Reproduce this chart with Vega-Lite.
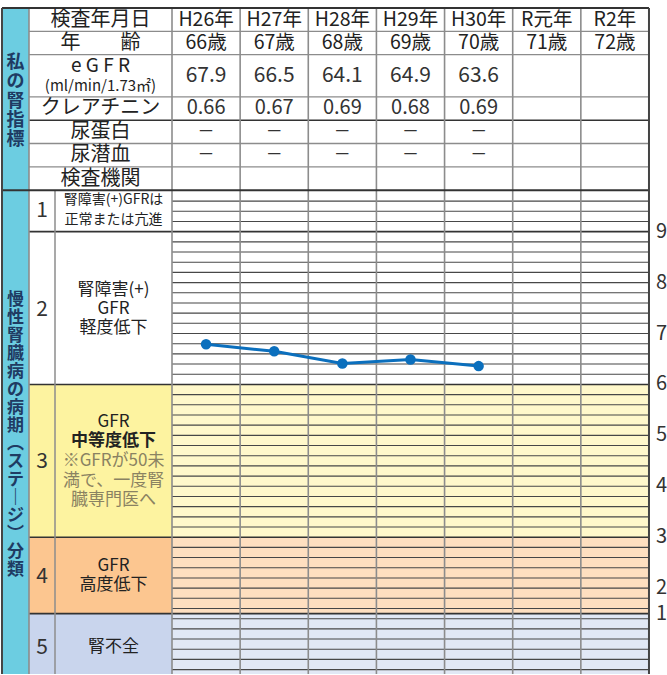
{
 "$schema": "https://vega.github.io/schema/vega-lite/v6.json",
 "width": 667, "height": 675,
 "autosize": {"type": "fit", "contains": "padding"},
 "padding": 0,
 "background": "#ffffff",
 "config": {"view": {"stroke": null}, "axis": {"disable": true}, "legend": {"disable": true}, "font": "Noto Sans CJK JP"},
 "datasets": {
  "years": [
   {"i": 0, "year": "H26年", "age": "66歳", "egfr": 67.9, "cre": 0.66, "prot": "－", "blood": "－"},
   {"i": 1, "year": "H27年", "age": "67歳", "egfr": 66.5, "cre": 0.67, "prot": "－", "blood": "－"},
   {"i": 2, "year": "H28年", "age": "68歳", "egfr": 64.1, "cre": 0.69, "prot": "－", "blood": "－"},
   {"i": 3, "year": "H29年", "age": "69歳", "egfr": 64.9, "cre": 0.68, "prot": "－", "blood": "－"},
   {"i": 4, "year": "H30年", "age": "70歳", "egfr": 63.6, "cre": 0.69, "prot": "－", "blood": "－"},
   {"i": 5, "year": "R元年", "age": "71歳", "egfr": null, "cre": null, "prot": "", "blood": ""},
   {"i": 6, "year": "R2年", "age": "72歳", "egfr": null, "cre": null, "prot": "", "blood": ""}
  ],
  "stages": [
   {"stage": "1", "lo": 90, "hi": 98},
   {"stage": "2", "lo": 60, "hi": 90},
   {"stage": "3", "lo": 30, "hi": 60},
   {"stage": "4", "lo": 15, "hi": 30},
   {"stage": "5", "lo": 0, "hi": 15}
  ],
  "gfrlines": [
   {"v": 4}, {"v": 6}, {"v": 8}, {"v": 10}, {"v": 12}, {"v": 14}, {"v": 16}, {"v": 18}, {"v": 20},
   {"v": 22}, {"v": 24}, {"v": 26}, {"v": 28}, {"v": 32}, {"v": 34}, {"v": 36}, {"v": 38}, {"v": 40},
   {"v": 42}, {"v": 44}, {"v": 46}, {"v": 48}, {"v": 50}, {"v": 52}, {"v": 54}, {"v": 56}, {"v": 58},
   {"v": 62}, {"v": 64}, {"v": 66}, {"v": 68}, {"v": 70}, {"v": 72}, {"v": 74}, {"v": 76}, {"v": 78},
   {"v": 80}, {"v": 82}, {"v": 84}, {"v": 86}, {"v": 88}, {"v": 92}, {"v": 94}, {"v": 96}
  ],
  "cols": [{"b": -2.5986}, {"b": -0.5}, {"b": 0.5}, {"b": 1.5}, {"b": 2.5}, {"b": 3.5}, {"b": 4.5}, {"b": 5.5}],
  "ticks": [{"v": 90}, {"v": 80}, {"v": 70}, {"v": 60}, {"v": 50}, {"v": 40}, {"v": 30}, {"v": 20}, {"v": 15}]
 },
 "data": {"values": [{}]},
 "resolve": {"scale": {"y": "independent", "color": "independent"}},
 "layer": [
  {"data": {"name": "stages"}, "mark": {"type": "rect", "clip": true},
   "encoding": {
    "x": {"datum": -2.5986, "type": "quantitative", "scale": {"domain": [-3.0242, 6.7644], "nice": false, "zero": false}},
    "x2": {"datum": -0.5},
    "y": {"field": "hi", "type": "quantitative", "scale": {"domain": [3.137, 135.49], "nice": false, "zero": false}},
    "y2": {"field": "lo"},
    "color": {"field": "stage", "type": "nominal", "scale": {"domain": ["1", "2", "3", "4", "5"], "range": ["#ffffff", "#ffffff", "#fdf3a0", "#fcc690", "#c9d5ed"]}, "legend": null}}},
  {"data": {"name": "stages"}, "mark": {"type": "rect", "clip": true},
   "encoding": {
    "x": {"datum": -0.5, "type": "quantitative", "scale": {"domain": [-3.0242, 6.7644], "nice": false, "zero": false}},
    "x2": {"datum": 6.5},
    "y": {"field": "hi", "type": "quantitative", "scale": {"domain": [3.137, 135.49], "nice": false, "zero": false}},
    "y2": {"field": "lo"},
    "color": {"field": "stage", "type": "nominal", "scale": {"domain": ["1", "2", "3", "4", "5"], "range": ["#ffffff", "#ffffff", "#fff8cb", "#fedfc0", "#e1e8f5"]}, "legend": null}}},
  {"mark": {"type": "rect", "color": "#6ccde1"},
   "encoding": {
    "x": {"datum": -2.995, "type": "quantitative", "scale": {"domain": [-3.0242, 6.7644], "nice": false, "zero": false}},
    "x2": {"datum": -2.5986},
    "y": {"datum": 133.92, "type": "quantitative", "scale": {"domain": [3.137, 135.49], "nice": false, "zero": false}},
    "y2": {"datum": 3.137}}},
  {"data": {"name": "gfrlines"}, "mark": {"type": "rule", "color": "#474747", "strokeWidth": 1.1},
   "encoding": {
    "x": {"datum": -0.5, "type": "quantitative", "scale": {"domain": [-3.0242, 6.7644], "nice": false, "zero": false}},
    "x2": {"datum": 6.5},
    "y": {"field": "v", "type": "quantitative", "scale": {"domain": [3.137, 135.49], "nice": false, "zero": false}}}},
  {"data": {"name": "stages"}, "transform": [{"filter": "datum.stage != '1'"}],
   "mark": {"type": "rule", "color": "#333333", "strokeWidth": 1.6},
   "encoding": {
    "x": {"datum": -2.5986, "type": "quantitative", "scale": {"domain": [-3.0242, 6.7644], "nice": false, "zero": false}},
    "x2": {"datum": 6.5},
    "y": {"field": "hi", "type": "quantitative", "scale": {"domain": [3.137, 135.49], "nice": false, "zero": false}}}},
  {"data": {"values": [{"t": 1}, {"t": 2}, {"t": 3.8}, {"t": 5.8}, {"t": 6.8}]},
   "mark": {"type": "rule", "color": "#8c8c8c", "strokeWidth": 1.3},
   "encoding": {
    "x": {"datum": -2.5986, "type": "quantitative", "scale": {"domain": [-3.0242, 6.7644], "nice": false, "zero": false}},
    "x2": {"datum": 6.5},
    "y": {"field": "t", "type": "quantitative", "scale": {"domain": [-0.342, 28.504], "nice": false, "zero": false, "reverse": true}}}},
  {"data": {"values": [{"t": 4.8}]},
   "mark": {"type": "rule", "color": "#333333", "strokeWidth": 1.5},
   "encoding": {
    "x": {"datum": -2.5986, "type": "quantitative", "scale": {"domain": [-3.0242, 6.7644], "nice": false, "zero": false}},
    "x2": {"datum": 6.5},
    "y": {"field": "t", "type": "quantitative", "scale": {"domain": [-0.342, 28.504], "nice": false, "zero": false, "reverse": true}}}},
  {"data": {"name": "cols"},
   "mark": {"type": "rule", "color": "#8c8c8c", "strokeWidth": 1.6},
   "encoding": {
    "x": {"field": "b", "type": "quantitative", "scale": {"domain": [-3.0242, 6.7644], "nice": false, "zero": false}},
    "y": {"datum": 133.92, "type": "quantitative", "scale": {"domain": [3.137, 135.49], "nice": false, "zero": false}},
    "y2": {"datum": 3.137}}},
  {"mark": {"type": "rule", "color": "#8c8c8c", "strokeWidth": 1.5},
   "encoding": {
    "x": {"datum": -2.217, "type": "quantitative", "scale": {"domain": [-3.0242, 6.7644], "nice": false, "zero": false}},
    "y": {"datum": 98, "type": "quantitative", "scale": {"domain": [3.137, 135.49], "nice": false, "zero": false}},
    "y2": {"datum": 3.137}}},
  {"data": {"values": [{"t": 0}, {"t": 7.8}]},
   "mark": {"type": "rule", "color": "#333333", "strokeWidth": 2},
   "encoding": {
    "x": {"datum": -2.995, "type": "quantitative", "scale": {"domain": [-3.0242, 6.7644], "nice": false, "zero": false}},
    "x2": {"datum": 6.5},
    "y": {"field": "t", "type": "quantitative", "scale": {"domain": [-0.342, 28.504], "nice": false, "zero": false, "reverse": true}}}},
  {"data": {"values": [{"b": -2.995}, {"b": 6.5}]},
   "mark": {"type": "rule", "color": "#444444", "strokeWidth": 2},
   "encoding": {
    "x": {"field": "b", "type": "quantitative", "scale": {"domain": [-3.0242, 6.7644], "nice": false, "zero": false}},
    "y": {"datum": 133.92, "type": "quantitative", "scale": {"domain": [3.137, 135.49], "nice": false, "zero": false}},
    "y2": {"datum": 3.137}}},

  {"mark": {"type": "text", "text": ["私", "の", "腎", "指", "標"], "fontSize": 18, "fontWeight": "bold", "lineHeight": 19.1, "color": "#1f3b63"},
   "encoding": {
    "x": {"datum": -2.797, "type": "quantitative", "scale": {"domain": [-3.0242, 6.7644], "nice": false, "zero": false}},
    "y": {"datum": 2.37, "type": "quantitative", "scale": {"domain": [-0.342, 28.504], "nice": false, "zero": false, "reverse": true}}}},
  {"mark": {"type": "text", "text": ["慢", "性", "腎", "臓", "病", "の", "病", "期", "︵", "ス", "テ", "｜", "ジ", "︶", "分", "類"], "fontSize": 17, "fontWeight": "bold", "lineHeight": 18, "color": "#1f3b63"},
   "encoding": {
    "x": {"datum": -2.797, "type": "quantitative", "scale": {"domain": [-3.0242, 6.7644], "nice": false, "zero": false}},
    "y": {"datum": 76.5, "type": "quantitative", "scale": {"domain": [3.137, 135.49], "nice": false, "zero": false}}}},

  {"mark": {"type": "text", "text": "検査年月日", "fontSize": 20, "color": "#222222"},
   "encoding": {
    "x": {"datum": -1.549, "type": "quantitative", "scale": {"domain": [-3.0242, 6.7644], "nice": false, "zero": false}},
    "y": {"datum": 0.5, "type": "quantitative", "scale": {"domain": [-0.342, 28.504], "nice": false, "zero": false, "reverse": true}}}},
  {"mark": {"type": "text", "text": "年　　齢", "fontSize": 20, "color": "#222222"},
   "encoding": {
    "x": {"datum": -1.549, "type": "quantitative", "scale": {"domain": [-3.0242, 6.7644], "nice": false, "zero": false}},
    "y": {"datum": 1.5, "type": "quantitative", "scale": {"domain": [-0.342, 28.504], "nice": false, "zero": false, "reverse": true}}}},
  {"mark": {"type": "text", "text": "e G F R", "fontSize": 19, "color": "#222222"},
   "encoding": {
    "x": {"datum": -1.549, "type": "quantitative", "scale": {"domain": [-3.0242, 6.7644], "nice": false, "zero": false}},
    "y": {"datum": 2.5, "type": "quantitative", "scale": {"domain": [-0.342, 28.504], "nice": false, "zero": false, "reverse": true}}}},
  {"mark": {"type": "text", "text": "(ml/min/1.73㎡)", "fontSize": 15, "color": "#222222"},
   "encoding": {
    "x": {"datum": -1.549, "type": "quantitative", "scale": {"domain": [-3.0242, 6.7644], "nice": false, "zero": false}},
    "y": {"datum": 3.33, "type": "quantitative", "scale": {"domain": [-0.342, 28.504], "nice": false, "zero": false, "reverse": true}}}},
  {"mark": {"type": "text", "text": "クレアチニン", "fontSize": 20, "color": "#222222"},
   "encoding": {
    "x": {"datum": -1.549, "type": "quantitative", "scale": {"domain": [-3.0242, 6.7644], "nice": false, "zero": false}},
    "y": {"datum": 4.3, "type": "quantitative", "scale": {"domain": [-0.342, 28.504], "nice": false, "zero": false, "reverse": true}}}},
  {"mark": {"type": "text", "text": "尿蛋白", "fontSize": 20, "color": "#222222"},
   "encoding": {
    "x": {"datum": -1.549, "type": "quantitative", "scale": {"domain": [-3.0242, 6.7644], "nice": false, "zero": false}},
    "y": {"datum": 5.3, "type": "quantitative", "scale": {"domain": [-0.342, 28.504], "nice": false, "zero": false, "reverse": true}}}},
  {"mark": {"type": "text", "text": "尿潜血", "fontSize": 20, "color": "#222222"},
   "encoding": {
    "x": {"datum": -1.549, "type": "quantitative", "scale": {"domain": [-3.0242, 6.7644], "nice": false, "zero": false}},
    "y": {"datum": 6.3, "type": "quantitative", "scale": {"domain": [-0.342, 28.504], "nice": false, "zero": false, "reverse": true}}}},
  {"mark": {"type": "text", "text": "検査機関", "fontSize": 20, "color": "#222222"},
   "encoding": {
    "x": {"datum": -1.549, "type": "quantitative", "scale": {"domain": [-3.0242, 6.7644], "nice": false, "zero": false}},
    "y": {"datum": 7.3, "type": "quantitative", "scale": {"domain": [-0.342, 28.504], "nice": false, "zero": false, "reverse": true}}}},

  {"data": {"name": "years"}, "mark": {"type": "text", "fontSize": 19.5, "color": "#222222"},
   "encoding": {
    "x": {"field": "i", "type": "quantitative", "scale": {"domain": [-3.0242, 6.7644], "nice": false, "zero": false}},
    "y": {"datum": 0.5, "type": "quantitative", "scale": {"domain": [-0.342, 28.504], "nice": false, "zero": false, "reverse": true}},
    "text": {"field": "year"}}},
  {"data": {"name": "years"}, "mark": {"type": "text", "fontSize": 19.5, "color": "#222222"},
   "encoding": {
    "x": {"field": "i", "type": "quantitative", "scale": {"domain": [-3.0242, 6.7644], "nice": false, "zero": false}},
    "y": {"datum": 1.5, "type": "quantitative", "scale": {"domain": [-0.342, 28.504], "nice": false, "zero": false, "reverse": true}},
    "text": {"field": "age"}}},
  {"data": {"name": "years"}, "transform": [{"filter": "isValid(datum.egfr)"}], "mark": {"type": "text", "fontSize": 21, "color": "#333333"},
   "encoding": {
    "x": {"field": "i", "type": "quantitative", "scale": {"domain": [-3.0242, 6.7644], "nice": false, "zero": false}},
    "y": {"datum": 2.9, "type": "quantitative", "scale": {"domain": [-0.342, 28.504], "nice": false, "zero": false, "reverse": true}},
    "text": {"field": "egfr", "type": "quantitative", "format": ".1f"}}},
  {"data": {"name": "years"}, "transform": [{"filter": "isValid(datum.cre)"}], "mark": {"type": "text", "fontSize": 20, "color": "#333333"},
   "encoding": {
    "x": {"field": "i", "type": "quantitative", "scale": {"domain": [-3.0242, 6.7644], "nice": false, "zero": false}},
    "y": {"datum": 4.3, "type": "quantitative", "scale": {"domain": [-0.342, 28.504], "nice": false, "zero": false, "reverse": true}},
    "text": {"field": "cre", "type": "quantitative", "format": ".2f"}}},
  {"data": {"name": "years"}, "mark": {"type": "text", "fontSize": 17, "color": "#333333"},
   "encoding": {
    "x": {"field": "i", "type": "quantitative", "scale": {"domain": [-3.0242, 6.7644], "nice": false, "zero": false}},
    "y": {"datum": 5.3, "type": "quantitative", "scale": {"domain": [-0.342, 28.504], "nice": false, "zero": false, "reverse": true}},
    "text": {"field": "prot"}}},
  {"data": {"name": "years"}, "mark": {"type": "text", "fontSize": 17, "color": "#333333"},
   "encoding": {
    "x": {"field": "i", "type": "quantitative", "scale": {"domain": [-3.0242, 6.7644], "nice": false, "zero": false}},
    "y": {"datum": 6.3, "type": "quantitative", "scale": {"domain": [-0.342, 28.504], "nice": false, "zero": false, "reverse": true}},
    "text": {"field": "blood"}}},

  {"data": {"values": [{"stage": "1", "g": 94}, {"stage": "2", "g": 74.7}, {"stage": "3", "g": 44.7}, {"stage": "4", "g": 22.2}, {"stage": "5", "g": 8.24}]},
   "mark": {"type": "text", "fontSize": 21, "color": "#333333"},
   "encoding": {
    "x": {"datum": -2.408, "type": "quantitative", "scale": {"domain": [-3.0242, 6.7644], "nice": false, "zero": false}},
    "y": {"field": "g", "type": "quantitative", "scale": {"domain": [3.137, 135.49], "nice": false, "zero": false}},
    "text": {"field": "stage"}}},
  {"mark": {"type": "text", "text": ["腎障害(+)GFRは", "正常または亢進"], "fontSize": 14, "lineHeight": 20, "color": "#222222"},
   "encoding": {
    "x": {"datum": -1.358, "type": "quantitative", "scale": {"domain": [-3.0242, 6.7644], "nice": false, "zero": false}},
    "y": {"datum": 96.27, "type": "quantitative", "scale": {"domain": [3.137, 135.49], "nice": false, "zero": false}}}},
  {"mark": {"type": "text", "text": ["腎障害(+)", "GFR", "軽度低下"], "fontSize": 17, "lineHeight": 19, "color": "#222222"},
   "encoding": {
    "x": {"datum": -1.358, "type": "quantitative", "scale": {"domain": [-3.0242, 6.7644], "nice": false, "zero": false}},
    "y": {"datum": 78.63, "type": "quantitative", "scale": {"domain": [3.137, 135.49], "nice": false, "zero": false}}}},
  {"mark": {"type": "text", "text": "GFR", "fontSize": 17, "color": "#222222"},
   "encoding": {
    "x": {"datum": -1.358, "type": "quantitative", "scale": {"domain": [-3.0242, 6.7644], "nice": false, "zero": false}},
    "y": {"datum": 52.55, "type": "quantitative", "scale": {"domain": [3.137, 135.49], "nice": false, "zero": false}}}},
  {"mark": {"type": "text", "text": "中等度低下", "fontSize": 17, "fontWeight": "bold", "color": "#222222"},
   "encoding": {
    "x": {"datum": -1.358, "type": "quantitative", "scale": {"domain": [-3.0242, 6.7644], "nice": false, "zero": false}},
    "y": {"datum": 48.8, "type": "quantitative", "scale": {"domain": [3.137, 135.49], "nice": false, "zero": false}}}},
  {"mark": {"type": "text", "text": ["※GFRが50未", "満で、一度腎", "臓専門医へ"], "fontSize": 17, "lineHeight": 19.5, "color": "#8a8262"},
   "encoding": {
    "x": {"datum": -1.358, "type": "quantitative", "scale": {"domain": [-3.0242, 6.7644], "nice": false, "zero": false}},
    "y": {"datum": 44.9, "type": "quantitative", "scale": {"domain": [3.137, 135.49], "nice": false, "zero": false}}}},
  {"mark": {"type": "text", "text": ["GFR", "高度低下"], "fontSize": 17, "lineHeight": 19, "color": "#222222"},
   "encoding": {
    "x": {"datum": -1.358, "type": "quantitative", "scale": {"domain": [-3.0242, 6.7644], "nice": false, "zero": false}},
    "y": {"datum": 24.41, "type": "quantitative", "scale": {"domain": [3.137, 135.49], "nice": false, "zero": false}}}},
  {"mark": {"type": "text", "text": "腎不全", "fontSize": 17, "color": "#222222"},
   "encoding": {
    "x": {"datum": -1.358, "type": "quantitative", "scale": {"domain": [-3.0242, 6.7644], "nice": false, "zero": false}},
    "y": {"datum": 8.43, "type": "quantitative", "scale": {"domain": [3.137, 135.49], "nice": false, "zero": false}}}},

  {"data": {"name": "ticks"}, "mark": {"type": "text", "fontSize": 20, "color": "#333333", "align": "left", "clip": true},
   "encoding": {
    "x": {"datum": 6.603, "type": "quantitative", "scale": {"domain": [-3.0242, 6.7644], "nice": false, "zero": false}},
    "y": {"field": "v", "type": "quantitative", "scale": {"domain": [3.137, 135.49], "nice": false, "zero": false}},
    "text": {"field": "v", "type": "quantitative", "format": "d"},
    "fontWeight": {"condition": {"test": "datum.v == 50", "value": "bold"}, "value": "normal"}}},

  {"data": {"name": "years"}, "transform": [{"filter": "isValid(datum.egfr)"}],
   "mark": {"type": "line", "color": "#0b6fbd", "strokeWidth": 3},
   "encoding": {
    "x": {"field": "i", "type": "quantitative", "scale": {"domain": [-3.0242, 6.7644], "nice": false, "zero": false}},
    "y": {"field": "egfr", "type": "quantitative", "scale": {"domain": [3.137, 135.49], "nice": false, "zero": false}}}},
  {"data": {"name": "years"}, "transform": [{"filter": "isValid(datum.egfr)"}],
   "mark": {"type": "point", "filled": true, "opacity": 1, "size": 110, "color": "#0b6fbd"},
   "encoding": {
    "x": {"field": "i", "type": "quantitative", "scale": {"domain": [-3.0242, 6.7644], "nice": false, "zero": false}},
    "y": {"field": "egfr", "type": "quantitative", "scale": {"domain": [3.137, 135.49], "nice": false, "zero": false}}}}
 ]
}
